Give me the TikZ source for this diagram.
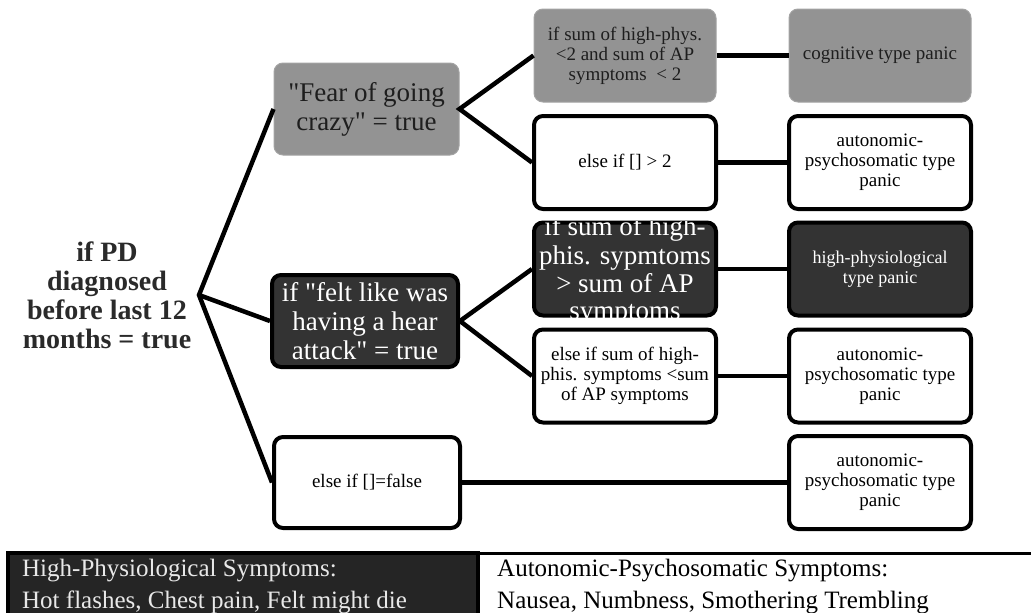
\documentclass[tikz,border=0pt]{standalone}
\usepackage{fontspec}
\setmainfont{Liberation Serif}
\definecolor{boxgray}{HTML}{939393}
\definecolor{grayedge}{HTML}{A3A3A3}
\definecolor{boxdark}{HTML}{333333}
\definecolor{legdark}{HTML}{252525}
\definecolor{txtdark}{HTML}{1E1E1E}
\definecolor{roottxt}{HTML}{2A2A2A}
\definecolor{legtxt}{HTML}{E8E8E8}
\newcommand{\dq}{\textquotedbl}
\begin{document}
\begin{tikzpicture}[x=1pt,y=-1pt,
  base/.style={rectangle, rounded corners=9pt, inner sep=0pt, align=center},
  graybox/.style={base, fill=boxgray, draw=grayedge, line width=1pt, text=txtdark},
  whitebox/.style={base, fill=white, draw=black, line width=4pt, text=black},
  darkbox/.style={base, fill=boxdark, draw=black, line width=4pt, text=white},
  bigtxt/.style={font=\fontsize{27}{29}\selectfont},
  smalltxt/.style={font=\fontsize{19}{20}\selectfont},
  colbox/.style={minimum width=182pt, minimum height=93pt},
  conn/.style={draw=black, line width=4.5pt, line join=miter},
  clipline/.style={anchor=base, inner sep=0pt, text=white, font=\fontsize{27}{28}\selectfont},
  legendtxt/.style={anchor=base west, inner sep=0pt, font=\fontsize{25}{25}\selectfont}
]
\useasboundingbox (0,0) rectangle (1031,613);

% root
\node[align=center, text=roottxt, font=\bfseries\fontsize{28}{29}\selectfont] (root) at (107,295)
  {if PD\\diagnosed\\before last 12\\months = true};
\coordinate (j) at (199,295);

% level 1
\node[graybox, bigtxt, minimum width=185pt, minimum height=92pt] (fear) at (366.5,109)
  {\dq Fear of going\\crazy\dq{} = true};
\node[darkbox, bigtxt, minimum width=186pt, minimum height=92pt] (heart) at (365,321)
  {if \dq felt like was\\having a hear\\attack\dq{} = true};
\node[whitebox, smalltxt, minimum width=186pt, minimum height=91pt] (else) at (367,482.5)
  {else if []=false};

% level 2
\node[graybox, smalltxt, colbox] (A) at (625,55.5)
  {if sum of high-phys.\\<2 and sum of AP\\symptoms~~< 2};
\node[whitebox, smalltxt, colbox] (B) at (625,162.5) {else if [] > 2};
\node[darkbox, colbox] (C) at (625,269) {};
\begin{scope}
  \clip[rounded corners=9pt] (532,221) rectangle (718,317);
  \node[clipline] (Ct1) at (625,235) {if sum of high-};
  \node[clipline] (Ct2) at (625,264) {phis. sypmtoms};
  \node[clipline] (Ct3) at (625,292) {> sum of AP};
  \node[clipline] (Ct4) at (625,319) {symptoms};
\end{scope}
\node[whitebox, smalltxt, colbox] (D) at (625,376)
  {else if sum of high-\\phis. symptoms <sum\\of AP symptoms};

% level 3
\node[graybox, smalltxt, colbox] (E) at (880,55.5) {cognitive type panic};
\node[whitebox, smalltxt, colbox] (F) at (880,162.5) {autonomic-\\psychosomatic type\\panic};
\node[darkbox, font=\fontsize{18}{20}\selectfont, colbox] (G) at (880,269) {high-physiological\\type panic};
\node[whitebox, smalltxt, colbox] (H) at (880,376) {autonomic-\\psychosomatic type\\panic};
\node[whitebox, smalltxt, colbox] (I) at (880,482.5) {autonomic-\\psychosomatic type\\panic};

% connectors
\draw[conn] (fear.west) -- (j) -- (else.west);
\draw[conn] (j) -- (heart.west);
\draw[conn] (A.west) -- (fear.east) -- (B.west);
\draw[conn] (C.west) -- (heart.east) -- (D.west);
\draw[conn] (A.east) -- (E.west);
\draw[conn] (B.east) -- (F.west);
\draw[conn] (C.east) -- (G.west);
\draw[conn] (D.east) -- (H.west);
\draw[conn] (else.east) -- (I.west);

% legend
\fill[legdark] (8,553) rectangle (478,616);
\draw[line width=4pt] (8,616) -- (8,553) -- (478,553) -- (478,616);
\draw[line width=3pt] (478,553) -- (1031,553);
\node[legendtxt, text=legtxt] (l1) at (22,576) {High-Physiological Symptoms:};
\node[legendtxt, text=legtxt] (l2) at (22,608) {Hot flashes, Chest pain, Felt might die};
\node[legendtxt, text=black] (r1) at (497,576) {Autonomic-Psychosomatic Symptoms:};
\node[legendtxt, text=black] (r2) at (497,608) {Nausea, Numbness, Smothering Trembling};
\end{tikzpicture}
\end{document}
